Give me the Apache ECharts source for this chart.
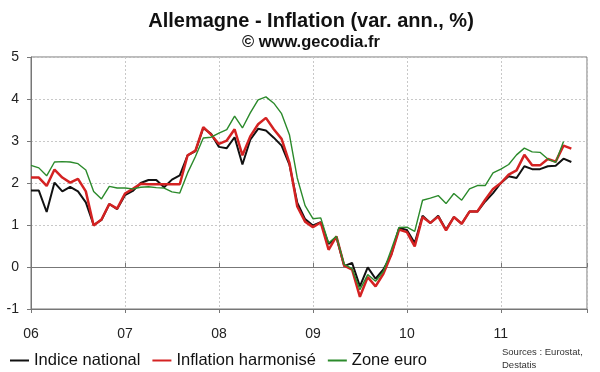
<!DOCTYPE html>
<html><head><meta charset="utf-8">
<script src="https://cdn.jsdelivr.net/npm/echarts@6/dist/echarts.min.js"></script>
<style>html,body{margin:0;padding:0;background:#fff}#c{width:600px;height:372px}</style>
</head><body><div id="c"></div>
<script>
// Monthly year-on-year inflation, Jan 2006 = index 0
const yearLabels = ['06', '07', '08', '09', '10', '11'];
const seriesNames = ['Indice national', 'Inflation harmonisé', 'Zone euro'];

const indiceNational = [
  1.82, 1.82, 1.31, 2.01, 1.80, 1.91, 1.80, 1.54, 1.00, 1.12, 1.50, 1.38,
  1.71, 1.81, 2.00, 2.07, 2.07, 1.90, 2.08, 2.18, 2.66, 2.76, 3.31, 3.17,
  2.86, 2.83, 3.09, 2.44, 3.03, 3.29, 3.25, 3.08, 2.89, 2.44, 1.53, 1.14,
  0.99, 1.07, 0.55, 0.71, 0.02, 0.10, -0.46, -0.01, -0.28, -0.06, 0.29, 0.93,
  0.88, 0.57, 1.22, 1.05, 1.22, 0.89, 1.19, 1.03, 1.32, 1.32, 1.56, 1.76,
  2.00, 2.16, 2.12, 2.40, 2.33, 2.33, 2.40, 2.41, 2.58, 2.50
];
const inflationHarmonise = [
  2.13, 2.13, 1.93, 2.32, 2.13, 2.01, 2.10, 1.80, 0.99, 1.13, 1.50, 1.39,
  1.75, 1.86, 1.98, 1.97, 1.97, 1.97, 1.97, 1.97, 2.66, 2.77, 3.33, 3.15,
  2.93, 3.01, 3.28, 2.66, 3.11, 3.40, 3.55, 3.28, 3.05, 2.48, 1.44, 1.08,
  0.95, 1.06, 0.41, 0.73, 0.03, -0.06, -0.71, -0.24, -0.46, -0.16, 0.29, 0.89,
  0.83, 0.49, 1.19, 1.05, 1.20, 0.87, 1.19, 1.03, 1.32, 1.32, 1.60, 1.86,
  2.00, 2.20, 2.30, 2.67, 2.42, 2.42, 2.57, 2.51, 2.89, 2.82
];
const zoneEuro = [
  2.42, 2.36, 2.17, 2.50, 2.51, 2.50, 2.46, 2.31, 1.80, 1.62, 1.92, 1.88,
  1.88, 1.86, 1.90, 1.91, 1.89, 1.88, 1.79, 1.76, 2.24, 2.63, 3.07, 3.09,
  3.19, 3.27, 3.59, 3.31, 3.67, 3.98, 4.05, 3.90, 3.65, 3.15, 2.12, 1.46,
  1.15, 1.17, 0.57, 0.73, 0.06, -0.04, -0.54, -0.18, -0.34, -0.10, 0.41, 0.94,
  0.95, 0.85, 1.59, 1.64, 1.70, 1.51, 1.75, 1.59, 1.86, 1.94, 1.94, 2.24,
  2.33, 2.44, 2.67, 2.83, 2.74, 2.73, 2.57, 2.49, 2.99
];

const FONT = '"Liberation Sans", Arial, sans-serif';
const toPairs = arr => arr.map((v, i) => [i, v]);
const grey = '#777';

const zeroAxis = (inside) => ({
  type: 'value', min: 0, max: 71, interval: 12, position: 'bottom',
  axisLine: { show: true, onZero: true, lineStyle: { color: grey, width: 1 } },
  axisTick: { show: true, inside: inside, length: 4, lineStyle: { color: grey } },
  axisLabel: { show: false }, splitLine: { show: false }
});

const chart = echarts.init(document.getElementById('c'), null, { renderer: 'canvas' });
chart.setOption({
  animation: false,
  backgroundColor: '#fff',
  textStyle: { fontFamily: FONT },
  grid: { left: 31, right: 13, top: 57, bottom: 63, show: true, borderColor: grey, borderWidth: 1, backgroundColor: 'transparent' },
  graphic: [
    { type: 'text', x: 311, y: 21, style: { text: 'Allemagne - Inflation (var. ann., %)', font: 'bold 20px ' + FONT, fill: '#111', textAlign: 'center', textVerticalAlign: 'middle', align: 'center', verticalAlign: 'middle' } },
    { type: 'text', x: 311, y: 42, style: { text: '© www.gecodia.fr', font: 'bold 16.5px ' + FONT, fill: '#111', textAlign: 'center', textVerticalAlign: 'middle', align: 'center', verticalAlign: 'middle' } },
    { type: 'text', x: 502, y: 346, style: { text: 'Sources : Eurostat,\nDestatis', font: '9.5px ' + FONT, fill: '#333', lineHeight: 12.6 } }
  ],
  legend: {
    left: 5, top: 347, icon: 'rect', itemWidth: 19, itemHeight: 2, itemGap: 12,
    textStyle: { fontSize: 16.5, color: '#111', fontFamily: FONT },
    data: seriesNames
  },
  xAxis: [
    {
      type: 'value', min: 0, max: 71, interval: 12, position: 'bottom',
      axisLine: { show: false, onZero: false }, axisTick: { show: false },
      axisLabel: { fontSize: 14, color: '#222', margin: 18, formatter: v => (v % 12 === 0 ? yearLabels[v / 12] : '') },
      splitLine: { show: true, lineStyle: { color: '#c8c8c8', type: [2, 2], width: 1 } }
    },
    zeroAxis(true),
    zeroAxis(false)
  ],
  yAxis: {
    type: 'value', min: -1, max: 5, interval: 1,
    axisLine: { show: true, onZero: false, lineStyle: { color: grey } },
    axisTick: { show: true, length: 4, lineStyle: { color: grey } },
    axisLabel: { fontSize: 14, color: '#222', margin: 12 },
    splitLine: { show: true, lineStyle: { color: '#c8c8c8', type: [2, 2], width: 1 } }
  },
  series: [
    { name: seriesNames[0], type: 'line', data: toPairs(indiceNational), showSymbol: false, symbol: 'none', color: '#111', lineStyle: { color: '#111', width: 2 }, z: 3 },
    { name: seriesNames[1], type: 'line', data: toPairs(inflationHarmonise), showSymbol: false, symbol: 'none', color: '#d42222', lineStyle: { color: '#d42222', width: 2.5 }, z: 4 },
    { name: seriesNames[2], type: 'line', data: toPairs(zoneEuro), showSymbol: false, symbol: 'none', color: '#2b8a2b', lineStyle: { color: '#2b8a2b', width: 1.4 }, z: 5 }
  ]
});
</script>
</body></html>
